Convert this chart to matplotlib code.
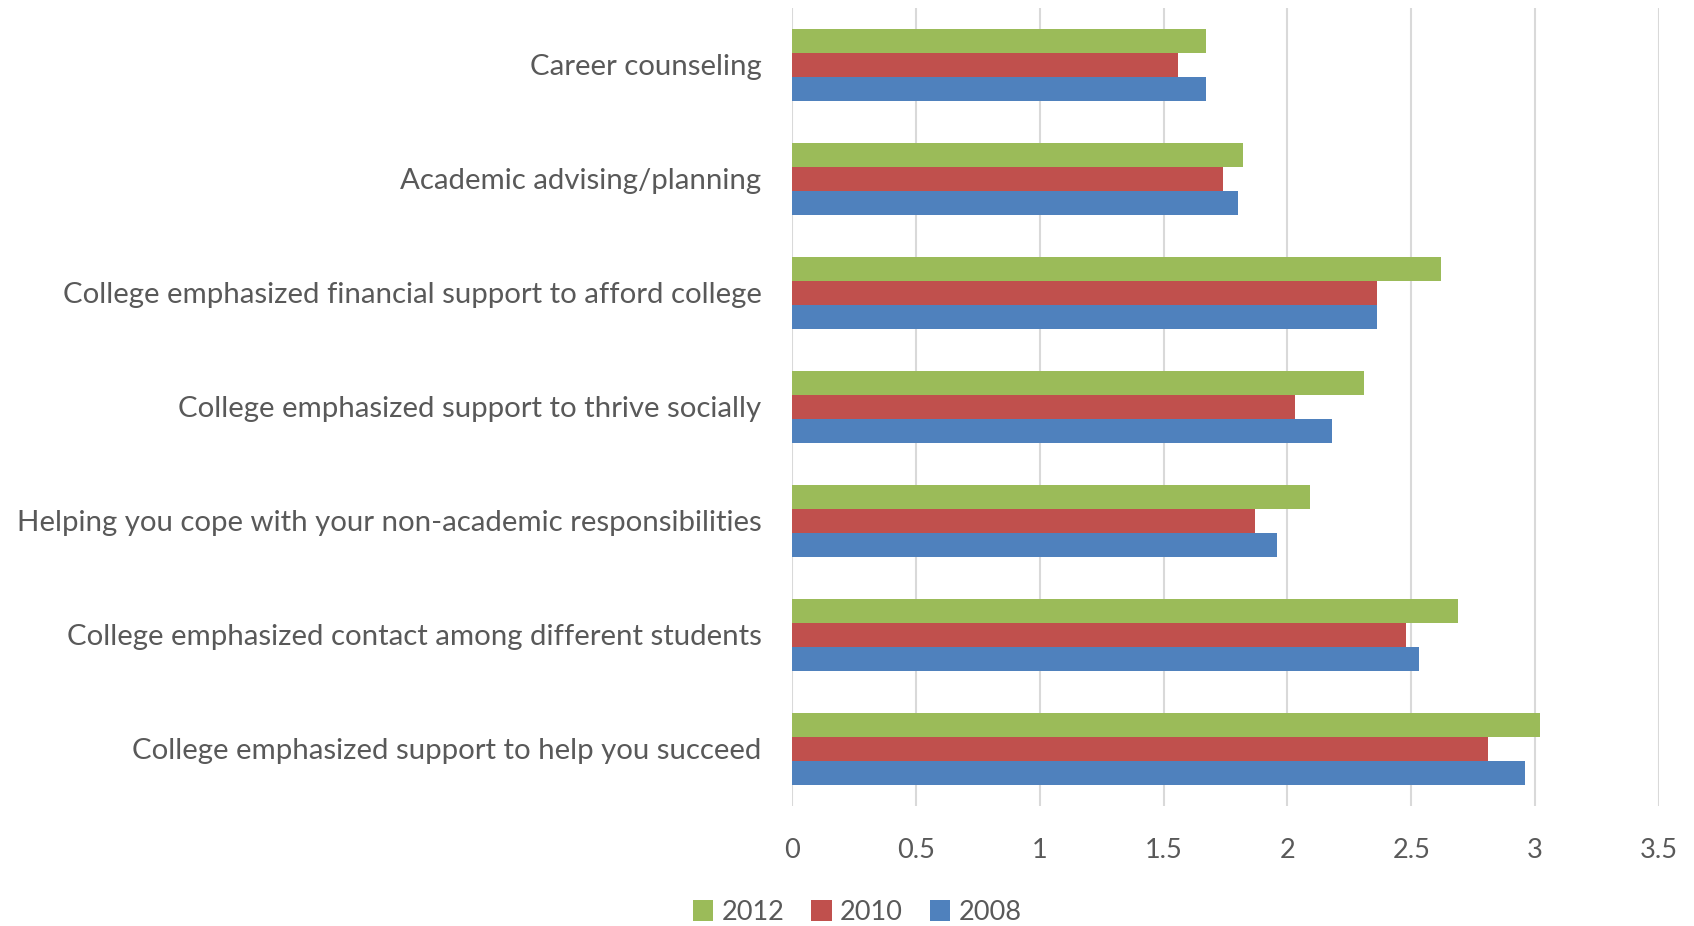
import matplotlib
matplotlib.use("Agg")
import matplotlib.pyplot as plt
from matplotlib.patches import Patch
import numpy as np

categories = [
    "Career counseling",
    "Academic advising/planning",
    "College emphasized financial support to afford college",
    "College emphasized support to thrive socially",
    "Helping you cope with your non-academic responsibilities",
    "College emphasized contact among different students",
    "College emphasized support to help you succeed",
]
values_2012 = [1.67, 1.82, 2.62, 2.31, 2.09, 2.69, 3.02]
values_2010 = [1.56, 1.74, 2.36, 2.03, 1.87, 2.48, 2.81]
values_2008 = [1.67, 1.80, 2.36, 2.18, 1.96, 2.53, 2.96]
series_labels = ["2012", "2010", "2008"]
xticks = [0, 0.5, 1, 1.5, 2, 2.5, 3, 3.5]
xtick_labels = ["0", "0.5", "1", "1.5", "2", "2.5", "3", "3.5"]

colors = ["#9BBB59", "#C0504D", "#4F81BD"]
text_color = "#595959"
grid_color = "#D9D9D9"

plt.rcParams["font.family"] = ["Lato", "DejaVu Sans"]

fig = plt.figure(figsize=(16.94, 9.26), dpi=100)
ax = fig.add_axes([0.4675, 0.1296, 0.5118, 0.8618])

n = len(categories)
y = np.arange(n)
bar_h = 0.625 / 3
series = [values_2012, values_2010, values_2008]
for i, (vals, col, lab) in enumerate(zip(series, colors, series_labels)):
    ax.barh(y + (i - 1) * bar_h, vals, height=bar_h, color=col, label=lab,
            edgecolor="none", zorder=3)

ax.set_ylim(n - 0.5, -0.5)
ax.set_xlim(0, 3.5)
ax.set_yticks(y)
ax.set_yticklabels(categories, fontsize=21.2, color=text_color)
ax.set_xticks(xticks)
ax.set_xticklabels(xtick_labels, fontsize=19.5, color=text_color)
ax.tick_params(axis="y", length=0, pad=22)
ax.tick_params(axis="x", length=0, pad=23)
ax.grid(axis="x", color=grid_color, linewidth=1.5, zorder=0)
for s in ax.spines.values():
    s.set_visible(False)

handles = [Patch(facecolor=c, edgecolor="none") for c in colors]
fig.legend(handles, series_labels, loc="center", bbox_to_anchor=(0.506, 0.015),
           ncol=3, frameon=False, fontsize=19.5, labelcolor=text_color,
           handlelength=0.75, handleheight=0.8, handletextpad=0.3,
           columnspacing=1.0)

fig.savefig("out.png", dpi=100, facecolor="white")
